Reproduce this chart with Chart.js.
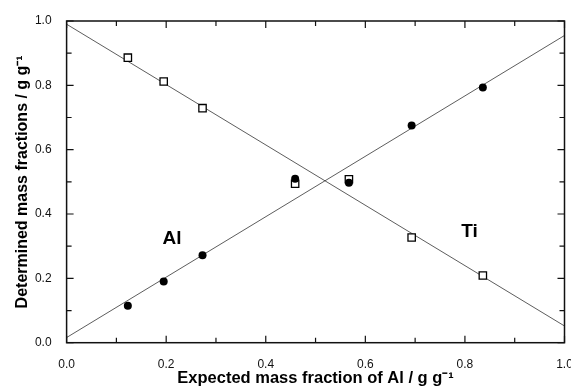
<!DOCTYPE html>
<html><head><meta charset="utf-8">
<script src="https://cdn.jsdelivr.net/npm/chart.js@4/dist/chart.umd.min.js"></script>
<style>html,body{margin:0;padding:0;background:#fff}canvas{display:block}</style>
</head><body>
<canvas id="c" width="571" height="388"></canvas>
<script>
// ---- data ----
const expectedAl   = [0.123, 0.195, 0.273, 0.459, 0.567, 0.693, 0.836];
const determinedAl = [0.115, 0.190, 0.272, 0.510, 0.497, 0.675, 0.793];
const determinedTi = [0.886, 0.812, 0.729, 0.494, 0.508, 0.327, 0.209];
const fitX  = [0.0, 1.0];
const fitAl = [0.016, 0.955];
const fitTi = [0.990, 0.052];
const xTicks = [0.0, 0.2, 0.4, 0.6, 0.8, 1.0];
const yTicks = [0.0, 0.2, 0.4, 0.6, 0.8, 1.0];
const minorStep = 0.1;
const seriesNames = ['Al', 'Ti'];
const seriesLabelAt = [[0.2115, 0.3226], [0.809, 0.344]];

const FONT = '"Liberation Sans", Arial, Helvetica, sans-serif';
const pts = (xs, ys) => xs.map((x, i) => ({x, y: ys[i]}));

const framePlugin = {
  id: 'frame',
  afterDatasetsDraw(chart) {
    const {ctx, chartArea: a, scales} = chart;
    const sx = scales.x, sy = scales.y;
    ctx.save();
    ctx.strokeStyle = '#111';
    ctx.lineWidth = 1.5;
    ctx.strokeRect(a.left, a.top, a.right - a.left, a.bottom - a.top);
    ctx.lineWidth = 1.2;
    ctx.beginPath();
    for (let i = 0; i <= 10; i++) {
      const v = i * minorStep;
      const major = i % 2 === 0;
      const L = major ? 7 : 5;
      const px = sx.getPixelForValue(v);
      const py = sy.getPixelForValue(v);
      ctx.moveTo(px, a.bottom); ctx.lineTo(px, a.bottom - L);
      ctx.moveTo(px, a.top); ctx.lineTo(px, a.top + L);
      ctx.moveTo(a.left, py); ctx.lineTo(a.left + L, py);
      ctx.moveTo(a.right, py); ctx.lineTo(a.right - L, py);
    }
    ctx.stroke();
    ctx.fillStyle = '#000';
    ctx.font = 'bold 19px ' + FONT;
    ctx.textAlign = 'center';
    ctx.textBaseline = 'middle';
    seriesNames.forEach((n, i) => {
      ctx.fillText(n, sx.getPixelForValue(seriesLabelAt[i][0]), sy.getPixelForValue(seriesLabelAt[i][1]));
    });
    ctx.restore();
  }
};

new Chart(document.getElementById('c'), {
  type: 'scatter',
  data: {
    datasets: [
      { label: 'Al', data: pts(expectedAl, determinedAl), order: 0,
        pointStyle: 'circle', pointRadius: 4, backgroundColor: '#000', borderColor: '#000', borderWidth: 0 },
      { label: 'Ti', data: pts(expectedAl, determinedTi), order: 1,
        pointStyle: 'rect', pointRadius: 5.2, backgroundColor: '#fff', borderColor: '#000', borderWidth: 1.3 },
      { type: 'line', label: 'Al fit', data: pts(fitX, fitAl), order: 2,
        borderColor: '#333', borderWidth: 0.8, pointRadius: 0, fill: false },
      { type: 'line', label: 'Ti fit', data: pts(fitX, fitTi), order: 3,
        borderColor: '#333', borderWidth: 0.8, pointRadius: 0, fill: false }
    ]
  },
  options: {
    responsive: false, animation: false, devicePixelRatio: 1,
    layout: { padding: { top: 21, right: 6, left: 0, bottom: 0 } },
    plugins: { legend: { display: false }, tooltip: { enabled: false } },
    scales: {
      x: {
        type: 'linear', min: 0, max: 1,
        grid: { display: false }, border: { display: false },
        afterBuildTicks: s => { s.ticks = xTicks.map(v => ({value: v})); },
        afterFit: s => { s.height = 45.3; s.paddingLeft = 0; s.paddingRight = 0; },
        ticks: { padding: 7, color: '#111', maxRotation: 0, autoSkip: false,
          font: { family: FONT, size: 12 }, callback: v => Number(v).toFixed(1) },
        title: { display: true, text: 'Expected mass fraction of Al / g g⁻¹', color: '#000',
          font: { family: FONT, size: 16.5, weight: 'bold' }, padding: { top: 0, bottom: 0 } }
      },
      y: {
        type: 'linear', min: 0, max: 1,
        grid: { display: false }, border: { display: false },
        afterBuildTicks: s => { s.ticks = yTicks.map(v => ({value: v})); },
        afterFit: s => { s.width = 66.6; s.paddingTop = 0; s.paddingBottom = 0; },
        ticks: { padding: 7, color: '#111', autoSkip: false,
          font: { family: FONT, size: 12 }, callback: v => Number(v).toFixed(1) },
        title: { display: true, text: 'Determined mass fractions / g g⁻¹', color: '#000',
          font: { family: FONT, size: 16, weight: 'bold' }, padding: { top: 12.5, bottom: 0 } }
      }
    }
  },
  plugins: [framePlugin]
});
</script>
</body></html>
